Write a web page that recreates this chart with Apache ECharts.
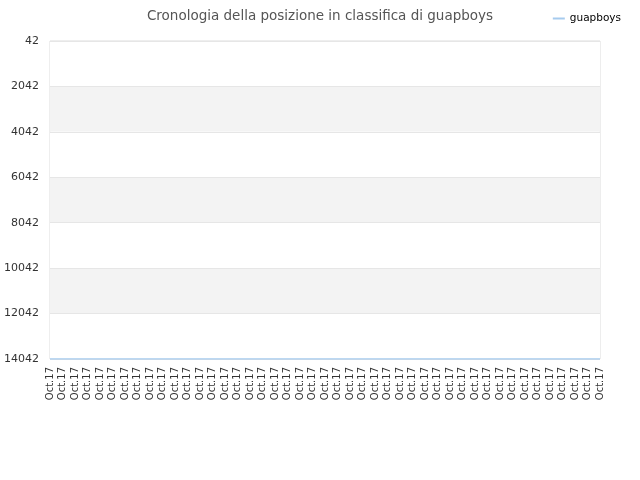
<!DOCTYPE html>
<html>
<head>
<meta charset="utf-8">
<script src="https://cdn.jsdelivr.net/npm/echarts@6/dist/echarts.min.js"></script>
<style>html,body{margin:0;padding:0;background:#fff;}#c{width:640px;height:480px;}</style>
</head>
<body>
<div id="c"></div>
<script>
var title = 'Cronologia della posizione in classifica di guapboys';
var seriesName = 'guapboys';
var categories = [];
for (var i = 0; i < 45; i++) categories.push('Oct.17');
var values = [14042,14042,14042,14042,14042,14042,14042,14042,14042,14042,
              14042,14042,14042,14042,14042,14042,14042,14042,14042,14042,
              14042,14042,14042,14042,14042,14042,14042,14042,14042,14042,
              14042,14042,14042,14042,14042,14042,14042,14042,14042,14042,
              14042,14042,14042,14042,14042];
var yMin = 42, yMax = 14042, yInterval = 2000;

var chart = echarts.init(document.getElementById('c'));
chart.setOption({
  animation: false,
  title: {
    text: title, left: 'center', top: 4,
    textStyle: { fontFamily: 'DejaVu Sans', fontSize: 13.5, fontWeight: 'normal', color: '#555' }
  },
  legend: {
    data: [seriesName], right: 14, top: 8,
    itemWidth: 12, itemHeight: 2, itemGap: 5,
    icon: 'rect',
    textStyle: { fontFamily: 'DejaVu Sans', fontSize: 10.5, color: '#000' }
  },
  grid: { left: 50, right: 40, top: 41, bottom: 121, show: true, borderColor: '#dcdcdc', borderWidth: 1 },
  xAxis: {
    type: 'category', data: categories, boundaryGap: false,
    axisLine: { show: false },
    axisTick: { show: false },
    axisLabel: { rotate: 90, interval: 0, fontFamily: 'DejaVu Sans', fontSize: 10, color: '#333', margin: 8 },
    splitLine: { show: false }
  },
  yAxis: {
    type: 'value', inverse: true, min: yMin, max: yMax, interval: yInterval,
    axisLine: { show: false }, axisTick: { show: false },
    axisLabel: { fontFamily: 'DejaVu Sans', fontSize: 11, color: '#333', margin: 11,
      formatter: function (v) { return String(v); } },
    splitLine: { show: true, lineStyle: { color: '#e6e6e6' } },
    splitArea: { show: true, areaStyle: { color: ['#ffffff', '#f3f3f3'] } }
  },
  series: [{
    name: seriesName, type: 'line', data: values,
    symbol: 'none', lineStyle: { color: '#a6cbee', width: 1.5 }, itemStyle: { color: '#a6cbee' }
  }]
});
</script>
</body>
</html>
